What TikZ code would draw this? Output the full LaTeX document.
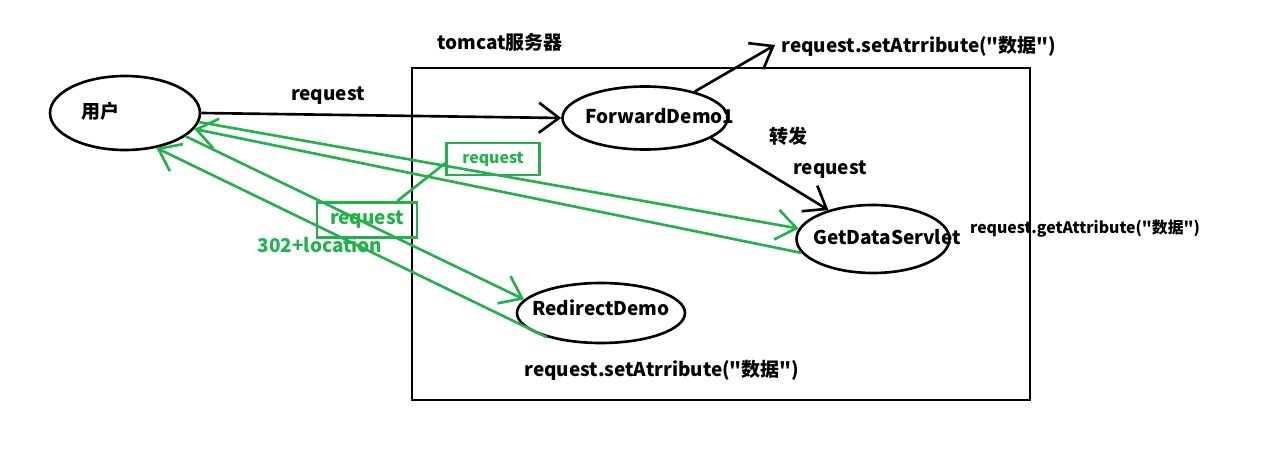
\documentclass[tikz,border=0pt]{standalone}
\usepackage{fontspec}
\newfontfamily\cnfont{Noto Sans CJK SC}
\usetikzlibrary{shapes.geometric,arrows.meta}
\definecolor{paintgreen}{RGB}{34,177,76}
% text inside an oval, taking no room (so the oval keeps its size)
\newcommand{\ovaltext}[2][0pt]{\makebox[0pt]{\hspace*{#1}\hspace*{#1}\raisebox{-0.5ex}[0pt][0pt]{#2}}}
\tikzset{
	oval/.style={draw, ellipse, line width=1.5pt, inner sep=0pt},
	blk/.style={line width=1.5pt, -{Straight Barb[length=4mm,width=6mm,line width=1.5pt]}},
	grn/.style={line width=1.5pt, paintgreen, -{Straight Barb[length=4mm,width=6mm,line width=1.5pt]}},
	gbox/.style={draw=paintgreen, line width=1.5pt, minimum width=1.86cm, minimum height=0.64cm, text=paintgreen}
}
\begin{document}
\begin{tikzpicture}[font=\cnfont\fontsize{10.8}{13}\selectfont\bfseries]
		\useasboundingbox (0,0) rectangle (25.48,9.4);
		
		% Server frame
		\draw[line width=1.5pt] (8.24,8.04) rectangle (20.6,1.4);
		\node (tomcat) at (10.0,8.56) {tomcat服务器};
		
		% Ovals
		\node[oval, minimum width=3cm, minimum height=1.48cm] (user) at (2.5,7.14) {\ovaltext[-0.5cm]{用户}};
		\node[oval, minimum width=3.3cm, minimum height=1.26cm] (fwd) at (12.9,7.04) {\ovaltext[0.3cm]{ForwardDemo1}};
		\node[oval, minimum width=3.06cm, minimum height=1.36cm] (get) at (17.46,4.62) {\ovaltext[0.28cm]{GetDataServlet}};
		\node[oval, minimum width=3.36cm, minimum height=1.2cm] (redir) at (12.02,3.14) {\raisebox{0.12cm}{\ovaltext{RedirectDemo}}};
		
		% Labels
		\node (req1) at (6.56,7.48) {request};
		\node (setattr1) at (18.38,8.48) {request.setAtrribute("数据")};
		\node (fwdlbl) at (15.76,6.68) {转发};
		\node (req2) at (16.6,6.0) {request};
		\node[font=\cnfont\fontsize{9}{11}\selectfont\bfseries] (getattr) at (21.7,4.82) {request.getAttribute("数据")};
		\node (setattr2) at (13.24,2.0) {request.setAtrribute("数据")};
		\node[text=paintgreen] (loc) at (6.4,4.5) {302+location};
		
		% Green request boxes
		\node[gbox] (gbox1) at (9.86,6.22) {\fontsize{9}{11}\selectfont request};
		\node[gbox, minimum width=2cm, minimum height=0.7cm] (gbox2) at (7.34,5.0) {request};
		\draw[paintgreen, line width=1.5pt] (gbox2.32) -- (gbox1.185);
		
		% Forward path
		\coordinate (setpt) at (15.5,8.5);
		\draw[blk] (user.0) -- (fwd.180);
		\draw[blk] (fwd.28) -- (setpt);
		\draw[blk] (fwd.-17) -- (get.147);
		
		% Redirect path
		\draw[grn] (user.-7) -- (get.172);
		\draw[grn] (get.191) -- (user.-13);
		\draw[grn] (user.-21) -- (redir.170);
		\draw[grn] (redir.204) -- (user.-48);
		
	\end{tikzpicture}
\end{document}
